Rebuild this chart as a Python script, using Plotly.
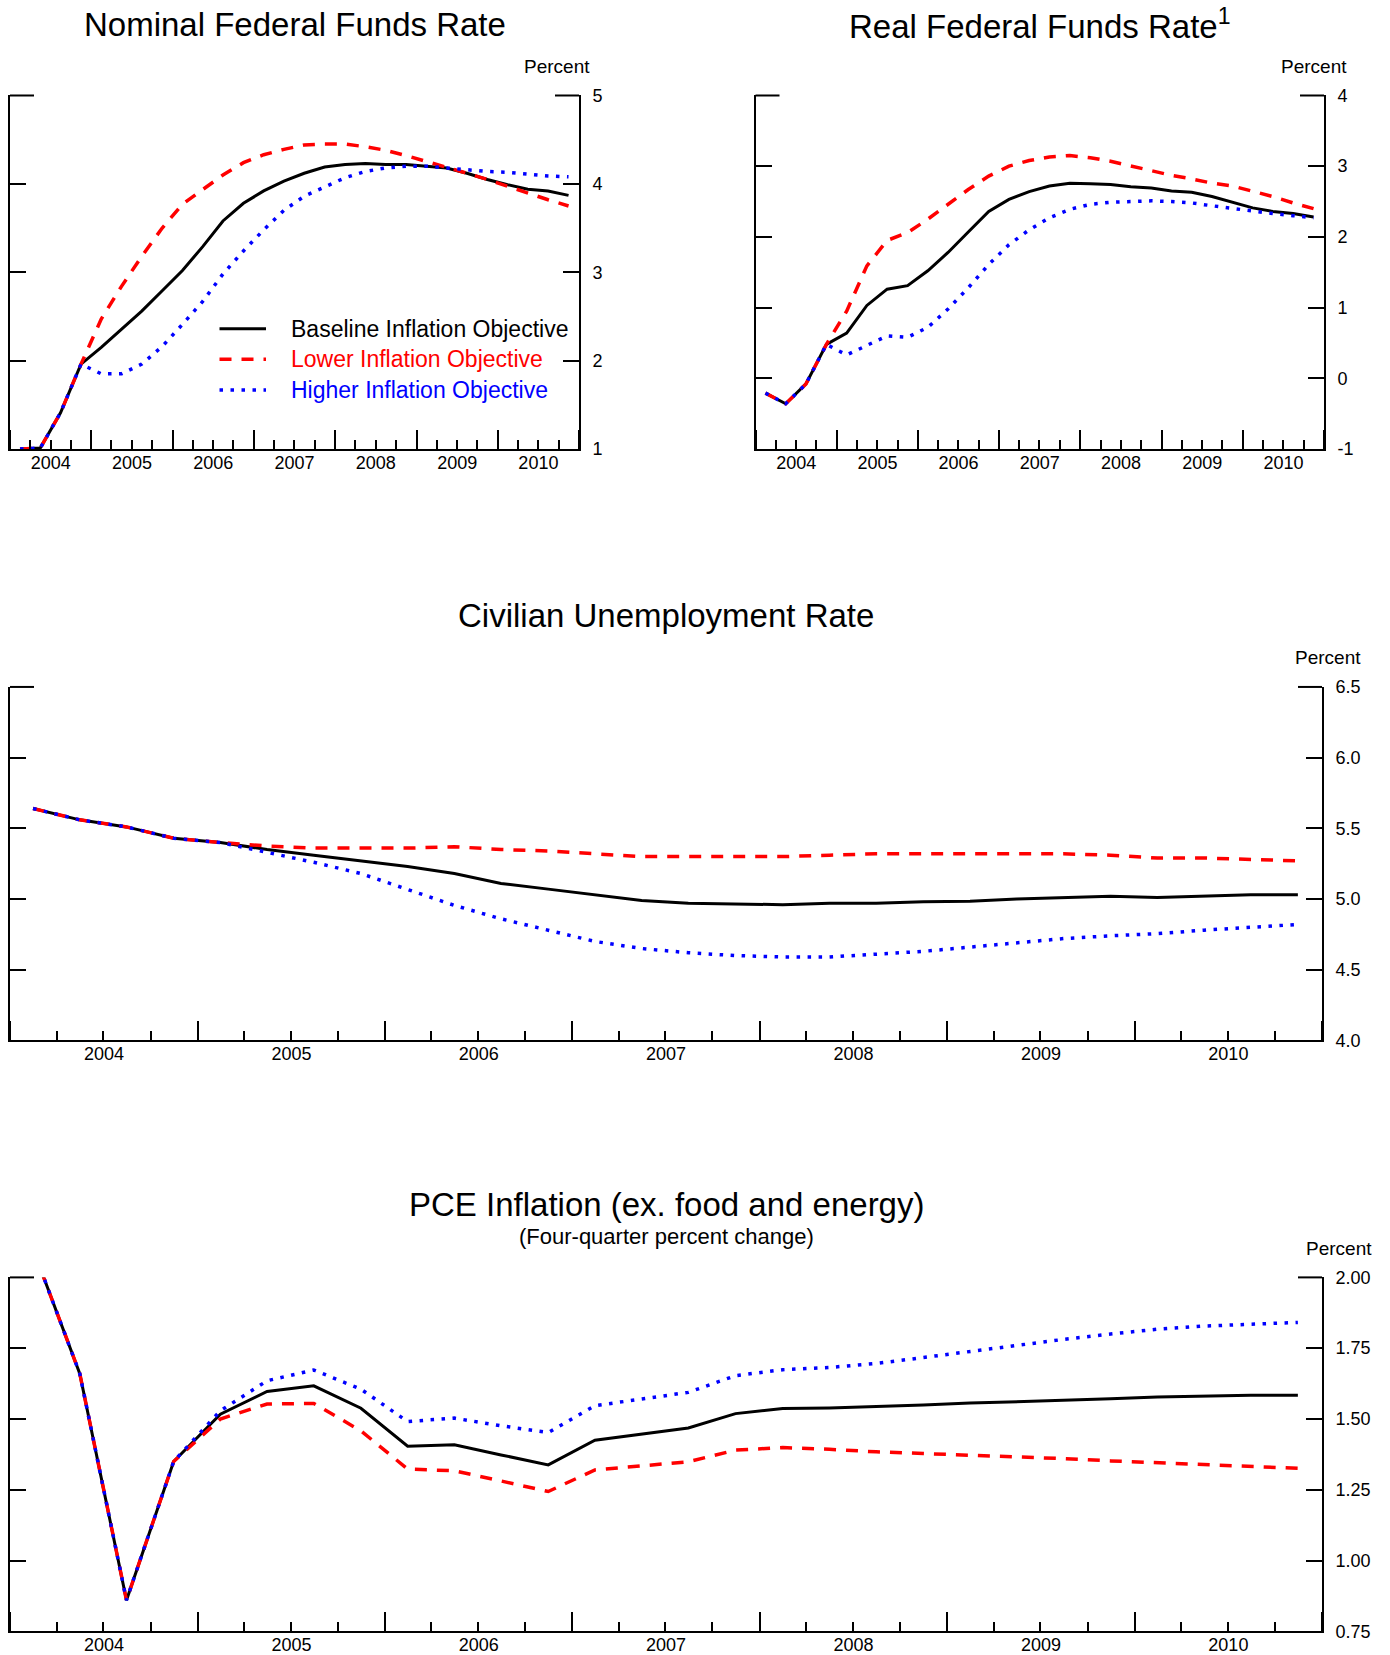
import plotly.graph_objects as go
import pandas as pd

FONT = "Liberation Sans, Arial, sans-serif"

# ---- data -------------------------------------------------------------
quarters = pd.period_range("2004Q1", "2010Q4", freq="Q")
x_dates = [(p.start_time + (p.end_time - p.start_time) / 2).strftime("%Y-%m-%d") for p in quarters]

series_names = ["Baseline Inflation Objective", "Lower Inflation Objective", "Higher Inflation Objective"]

nominal_baseline = [1.00, 1.01, 1.41, 1.96, 2.15, 2.35, 2.56, 2.79, 3.02, 3.29, 3.58, 3.78, 3.92, 4.03,
                    4.12, 4.19, 4.22, 4.23, 4.22, 4.22, 4.20, 4.18, 4.12, 4.05, 3.99, 3.94, 3.92, 3.87]
nominal_lower = [1.00, 1.01, 1.41, 1.96, 2.47, 2.84, 3.18, 3.50, 3.77, 3.94, 4.10, 4.24, 4.33, 4.39,
                 4.44, 4.45, 4.45, 4.42, 4.38, 4.32, 4.25, 4.19, 4.12, 4.05, 3.97, 3.90, 3.82, 3.75]
nominal_higher = [1.00, 1.01, 1.41, 1.96, 1.85, 1.85, 1.96, 2.16, 2.41, 2.67, 2.98, 3.24, 3.48, 3.70,
                  3.86, 3.97, 4.07, 4.14, 4.18, 4.20, 4.20, 4.18, 4.16, 4.14, 4.13, 4.11, 4.09, 4.08]

real_baseline = [-0.21, -0.36, -0.08, 0.48, 0.64, 1.03, 1.26, 1.31, 1.52, 1.78, 2.07, 2.36, 2.53, 2.64,
                 2.72, 2.76, 2.75, 2.74, 2.71, 2.69, 2.65, 2.63, 2.57, 2.49, 2.41, 2.36, 2.33, 2.28]
real_lower = [-0.21, -0.36, -0.08, 0.48, 0.95, 1.59, 1.95, 2.06, 2.25, 2.46, 2.67, 2.86, 3.00, 3.08,
              3.13, 3.15, 3.12, 3.07, 3.00, 2.93, 2.87, 2.82, 2.76, 2.72, 2.65, 2.57, 2.48, 2.40]
real_higher = [-0.21, -0.36, -0.08, 0.48, 0.33, 0.46, 0.60, 0.58, 0.72, 0.98, 1.28, 1.61, 1.89, 2.10,
               2.27, 2.39, 2.46, 2.49, 2.50, 2.51, 2.50, 2.48, 2.44, 2.40, 2.36, 2.33, 2.30, 2.27]

unemp_baseline = [5.64, 5.56, 5.51, 5.43, 5.40, 5.35, 5.31, 5.27, 5.23, 5.18, 5.11, 5.07, 5.03, 4.99,
                  4.97, 4.965, 4.96, 4.97, 4.97, 4.98, 4.985, 5.00, 5.01, 5.02, 5.01, 5.02, 5.03, 5.03]
unemp_lower = [5.64, 5.56, 5.51, 5.43, 5.40, 5.375, 5.36, 5.36, 5.36, 5.37, 5.35, 5.34, 5.32, 5.30,
               5.30, 5.30, 5.30, 5.31, 5.32, 5.32, 5.32, 5.32, 5.32, 5.31, 5.29, 5.29, 5.28, 5.27]
unemp_higher = [5.64, 5.56, 5.51, 5.43, 5.40, 5.33, 5.26, 5.18, 5.07, 4.955, 4.86, 4.78, 4.70, 4.65,
                4.62, 4.60, 4.59, 4.59, 4.61, 4.63, 4.66, 4.69, 4.72, 4.74, 4.755, 4.78, 4.80, 4.82]

pce_baseline = [2.10, 1.66, 0.86, 1.35, 1.517, 1.597, 1.617, 1.538, 1.404, 1.409, 1.373, 1.338, 1.425, 1.446,
                1.468, 1.519, 1.537, 1.539, 1.543, 1.549, 1.556, 1.561, 1.565, 1.571, 1.578, 1.582, 1.584, 1.584]
pce_lower = [2.10, 1.66, 0.86, 1.35, 1.50, 1.553, 1.555, 1.458, 1.323, 1.317, 1.281, 1.244, 1.32, 1.335,
             1.349, 1.39, 1.399, 1.393, 1.384, 1.378, 1.373, 1.368, 1.36, 1.352, 1.345, 1.338, 1.332, 1.326]
pce_higher = [2.10, 1.66, 0.86, 1.35, 1.529, 1.635, 1.673, 1.605, 1.491, 1.503, 1.476, 1.452, 1.547, 1.570,
              1.594, 1.653, 1.674, 1.682, 1.696, 1.717, 1.739, 1.761, 1.781, 1.80, 1.817, 1.828, 1.835, 1.841]

nominal_ticks = [1, 2, 3, 4, 5]
nominal_ticktext = ["1", "2", "3", "4", "5"]
real_ticks = [-1, 0, 1, 2, 3, 4]
real_ticktext = ["-1", "0", "1", "2", "3", "4"]
unemp_ticks = [4.0, 4.5, 5.0, 5.5, 6.0, 6.5]
unemp_ticktext = ["4.0", "4.5", "5.0", "5.5", "6.0", "6.5"]
pce_ticks = [0.75, 1.00, 1.25, 1.50, 1.75, 2.00]
pce_ticktext = ["0.75", "1.00", "1.25", "1.50", "1.75", "2.00"]

titles = ["Nominal Federal Funds Rate", "Real Federal Funds Rate<sup>1</sup>",
          "Civilian Unemployment Rate", "PCE Inflation (ex. food and energy)"]
pce_subtitle = "(Four-quarter percent change)"

# ---- styles -----------------------------------------------------------
line_styles = [
    dict(color="#000000", width=3, dash="solid"),
    dict(color="#FF0000", width=3.5, dash="12px,10px"),
    dict(color="#0000FF", width=3.5, dash="3.5px,7.5px"),
]
name_colors = ["#000000", "#FF0000", "#0000FF"]

panels = [
    (nominal_baseline, nominal_lower, nominal_higher),
    (real_baseline, real_lower, real_higher),
    (unemp_baseline, unemp_lower, unemp_higher),
    (pce_baseline, pce_lower, pce_higher),
]

fig = go.Figure()
for pi, panel in enumerate(panels):
    ax = "" if pi == 0 else str(pi + 1)
    for si, ys in enumerate(panel):
        fig.add_trace(go.Scatter(
            x=x_dates, y=ys, mode="lines",
            line=line_styles[si],
            name=series_names[si],
            legendgroup=series_names[si],
            showlegend=False,
            xaxis="x" + ax, yaxis="y" + ax,
            hoverinfo="skip",
        ))

W, H = 1390, 1655


def py(v):
    # vertical pixel position -> layout pixel position (compensates page offset)
    return (v - 9.5) / 0.988


def xdom(l, r):
    return [l / W, r / W]


def ydom(top, bottom):
    return [1 - py(bottom) / H, 1 - py(top) / H]


tickfont = dict(family=FONT, size=18, color="black")

xcommon = dict(
    type="date", range=["2004-01-01", "2011-01-01"], tick0="2004-01-01", dtick="M12",
    ticklabelmode="period", tickformat="%Y", ticks="inside", ticklen=19, tickwidth=2,
    tickcolor="black", showline=True, linewidth=2, linecolor="black", showgrid=False,
    zeroline=False, tickfont=tickfont, fixedrange=True, ticklabelstandoff=-4,
    minor=dict(dtick="M3", tick0="2004-01-01", ticks="inside", ticklen=9, tickwidth=2,
               tickcolor="black", showgrid=False),
)
ycommon = dict(
    side="right", ticks="inside", ticklen=16, tickwidth=2, tickcolor="black",
    showline=True, linewidth=2, linecolor="black", mirror="ticks", showgrid=False,
    zeroline=False, tickfont=tickfont, fixedrange=True, ticklabelstandoff=8,
)

top_row = (95, 448.5)
doms = [
    (xdom(10, 579), ydom(*top_row)),
    (xdom(755.5, 1324), ydom(*top_row)),
    (xdom(10, 1322), ydom(686.5, 1040)),
    (xdom(10, 1322), ydom(1277, 1631)),
]
yinfo = [
    ([1, 5], nominal_ticks, nominal_ticktext),
    ([-1, 4], real_ticks, real_ticktext),
    ([4.0, 6.5], unemp_ticks, unemp_ticktext),
    ([0.75, 2.0], pce_ticks, pce_ticktext),
]

layout_axes = {}
annotations = []
shapes = []
percent_shift = [13, 25, 41, 52]
title_shift = [71, 71, 71, 73]
for i in range(4):
    s = "" if i == 0 else str(i + 1)
    xd, yd = doms[i]
    rng, tv, tt = yinfo[i]
    layout_axes["xaxis" + s] = dict(xcommon, domain=xd, anchor="y" + s)
    layout_axes["yaxis" + s] = dict(ycommon, domain=yd, anchor="x" + s, range=rng,
                                    tickmode="array", tickvals=tv, ticktext=tt)
    annotations.append(dict(
        text=titles[i], xref="x%s domain" % s, yref="y%s domain" % s, x=0.5, y=1,
        yshift=title_shift[i], xanchor="center", yanchor="middle", showarrow=False,
        font=dict(family=FONT, size=33, color="black"),
    ))
    annotations.append(dict(
        text="Percent", xref="x%s domain" % s, yref="y%s domain" % s, x=1, y=1,
        xshift=percent_shift[i], yshift=29, xanchor="right", yanchor="middle", showarrow=False,
        font=dict(family=FONT, size=19, color="black"),
    ))
    # longer corner ticks at the top of each frame
    for side, (a0, a1) in ((0, (0, 24)), (1, (-24, 0))):
        shapes.append(dict(
            type="line", xref="x%s domain" % s, yref="y%s domain" % s,
            xsizemode="pixel", xanchor=side, x0=a0, x1=a1, y0=1, y1=1,
            line=dict(color="black", width=2),
        ))

annotations.append(dict(
    text=pce_subtitle, xref="x4 domain", yref="y4 domain", x=0.5, y=1, yshift=41,
    xanchor="center", yanchor="middle", showarrow=False,
    font=dict(family=FONT, size=22, color="black"),
))

# ---- legend (drawn inside the first panel) -----------------------------
legend_rows = [328.2, 358.8, 389.5]
for si in range(3):
    yy = 1 - py(legend_rows[si]) / H
    shapes.append(dict(
        type="line", xref="paper", yref="paper", x0=219.5 / W, x1=266 / W, y0=yy, y1=yy,
        line=dict(color=line_styles[si]["color"], width=line_styles[si]["width"],
                  dash=line_styles[si]["dash"]),
    ))
    annotations.append(dict(
        text=series_names[si], xref="paper", yref="paper", x=289 / W, y=yy,
        xanchor="left", yanchor="middle", showarrow=False,
        font=dict(family=FONT, size=23, color=name_colors[si]),
    ))

fig.update_layout(
    width=W, height=H, margin=dict(l=0, r=0, t=0, b=0),
    paper_bgcolor="white", plot_bgcolor="white",
    font=dict(family=FONT, color="black"),
    annotations=annotations, shapes=shapes,
    showlegend=False,
    **layout_axes,
)

fig.write_html("out.html")
